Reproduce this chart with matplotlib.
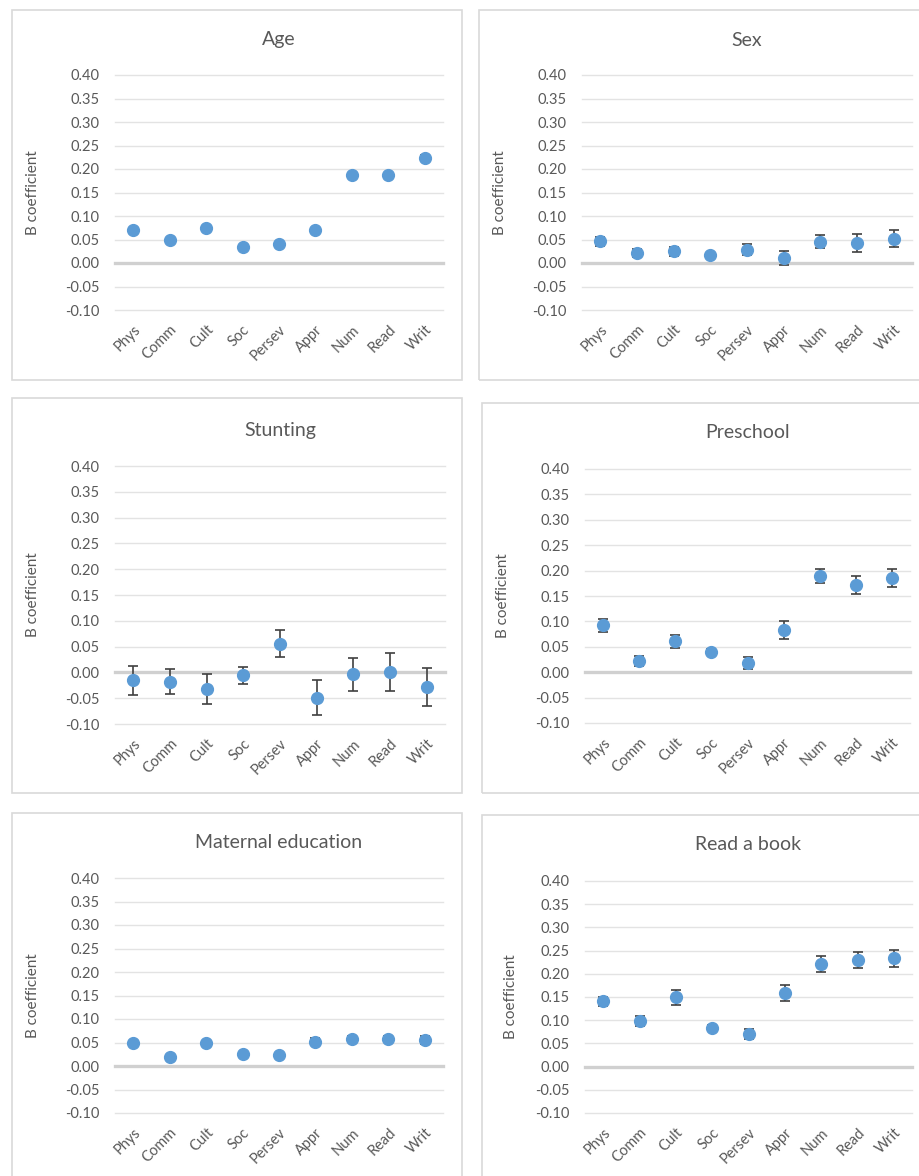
import matplotlib
matplotlib.use('Agg')
import matplotlib.pyplot as plt
from matplotlib.patches import Rectangle

plt.rcParams['font.family'] = ['Lato', 'DejaVu Sans']

# categories on the x axis
dominios = ['Phys', 'Comm', 'Cult', 'Soc', 'Persev', 'Appr', 'Num', 'Read', 'Writ']

# B coefficients and error half-widths
idade = [0.071, 0.048, 0.074, 0.034, 0.041, 0.070, 0.188, 0.188, 0.224]
idade_err = [0.004, 0.004, 0.004, 0.004, 0.004, 0.004, 0.004, 0.004, 0.006]

sexo = [0.046, 0.021, 0.025, 0.016, 0.028, 0.011, 0.045, 0.043, 0.052]
sexo_err = [0.010, 0.008, 0.010, 0.006, 0.012, 0.015, 0.014, 0.019, 0.018]

stunting = [-0.015, -0.018, -0.033, -0.006, 0.056, -0.049, -0.004, 0.000, -0.028]
stunting_err = [0.028, 0.024, 0.029, 0.017, 0.027, 0.034, 0.032, 0.037, 0.037]

preescola = [0.092, 0.022, 0.061, 0.039, 0.018, 0.083, 0.190, 0.171, 0.185]
preescola_err = [0.013, 0.010, 0.013, 0.006, 0.012, 0.017, 0.014, 0.018, 0.018]

educ_mae = [0.049, 0.019, 0.048, 0.025, 0.024, 0.052, 0.058, 0.058, 0.055]
educ_mae_err = [0.005, 0.004, 0.005, 0.004, 0.004, 0.008, 0.006, 0.006, 0.008]

livro = [0.141, 0.098, 0.149, 0.083, 0.070, 0.159, 0.221, 0.230, 0.233]
livro_err = [0.010, 0.010, 0.016, 0.007, 0.010, 0.017, 0.017, 0.018, 0.019]

ticks_y = [-0.10, -0.05, 0.00, 0.05, 0.10, 0.15, 0.20, 0.25, 0.30, 0.35, 0.40]

W, H = 919, 1176
fig = plt.figure(figsize=(W / 100, H / 100), dpi=100)
fig.patch.set_facecolor('white')

cinza = '#595959'
azul = '#5B9BD5'


def caixa(x0, y0, x1, y1):
    # moldura de cada grafico em pixels
    r = Rectangle((x0 / W, 1 - y1 / H), (x1 - x0) / W, (y1 - y0) / H,
                  transform=fig.transFigure, fill=False,
                  edgecolor='#D9D9D9', linewidth=1.2)
    fig.patches.append(r)


def painel(px, titulo, valores, erros, tit_y, lab_x):
    x0, y0, x1, y1 = px
    ax = fig.add_axes([x0 / W, 1 - y1 / H, (x1 - x0) / W, (y1 - y0) / H])
    for t in ticks_y:
        if abs(t) < 1e-9:
            ax.axhline(t, color='#D0D0D0', linewidth=2.4, zorder=1, clip_on=False)
        else:
            ax.axhline(t, color='#E3E3E3', linewidth=1.0, zorder=1, clip_on=False)
    ax.errorbar(range(len(dominios)), valores, yerr=erros, fmt='o',
                color=azul, markersize=8.5, ecolor='#404040', elinewidth=1.2,
                capsize=3.8, capthick=1.2, zorder=3)
    ax.set_xlim(-0.5, len(dominios) - 0.5)
    ax.set_ylim(-0.10, 0.40)
    ax.set_yticks(ticks_y)
    ax.set_yticklabels(['{:.2f}'.format(t) for t in ticks_y], fontsize=10.5, color=cinza)
    ax.set_xticks(range(len(dominios)))
    ax.set_xticklabels(dominios, rotation=45, ha='right', rotation_mode='anchor',
                       fontsize=10.5, color=cinza)
    ax.tick_params(axis='y', length=0, pad=11)
    ax.tick_params(axis='x', length=0, pad=9)
    for s in ax.spines.values():
        s.set_visible(False)
    ax.set_ylabel('B coefficient', fontsize=11, color=cinza)
    ax.yaxis.set_label_coords((lab_x - x0) / (x1 - x0), 0.5)
    fig.text((x0 + x1) / 2 / W, 1 - tit_y / H, titulo, ha='center', va='center',
             fontsize=14, color=cinza)
    return ax


caixa(12, 10, 462, 380)
caixa(479, 10, 930, 380)
caixa(12, 398, 462, 793)
caixa(482, 403, 930, 793)
caixa(12, 813, 462, 1190)
caixa(482, 815, 930, 1190)

painel((115, 75, 443, 310), 'Age', idade, idade_err, 40, 40)
painel((582, 75, 912, 310), 'Sex', sexo, sexo_err, 40, 507)
painel((115, 466, 445, 724), 'Stunting', stunting, stunting_err, 431, 40)
painel((585, 469, 910, 723), 'Preschool', preescola, preescola_err, 433, 510)
painel((115, 878, 443, 1113), 'Maternal education', educ_mae, educ_mae_err, 842, 40)
painel((585, 881, 912, 1113), 'Read a book', livro, livro_err, 845, 518)

plt.savefig('out.png', dpi=100, facecolor='white')
